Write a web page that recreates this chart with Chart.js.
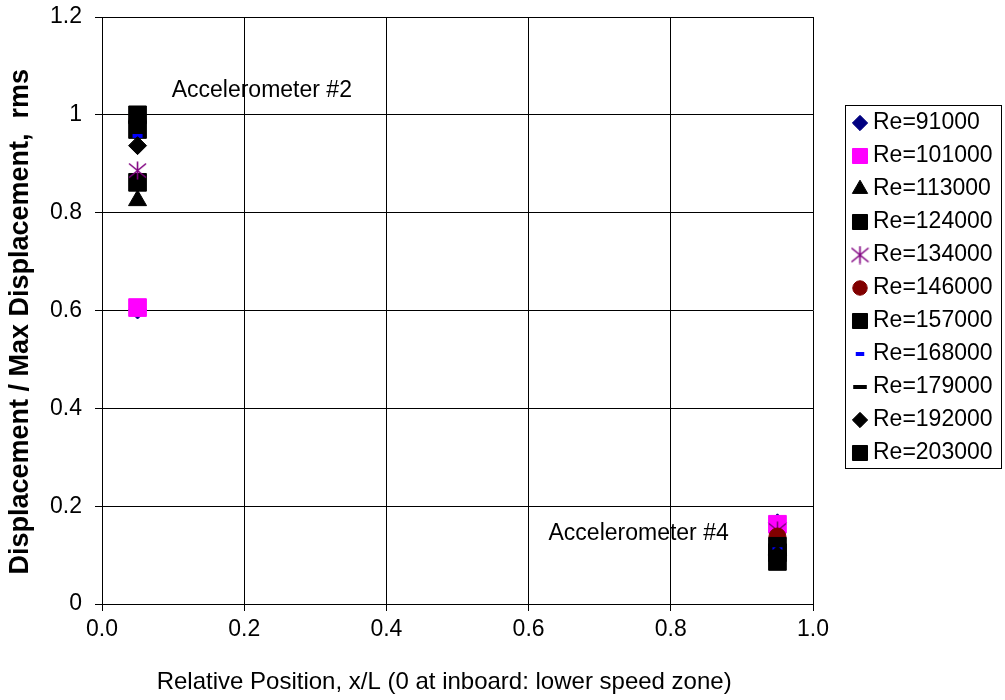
<!DOCTYPE html>
<html>
<head>
<meta charset="utf-8">
<style>
    html, body { margin: 0; padding: 0; background: #fff; }
    #wrap { width: 1005px; height: 700px; }
</style>
<script src="https://cdn.jsdelivr.net/npm/chart.js/dist/chart.umd.min.js"></script>
</head>
<body>
<div id="wrap"><canvas id="accelChart" width="1005" height="700"></canvas></div>
<script>
    // Series: one per Reynolds number, measured at both accelerometers
    const seriesNames = ['Re=91000', 'Re=101000', 'Re=113000', 'Re=124000', 'Re=134000', 'Re=146000',
                         'Re=157000', 'Re=168000', 'Re=179000', 'Re=192000', 'Re=203000'];
    const positions = [0.05, 0.95];                      // x/L of accelerometer #2 and #4
    const accel2 = [0.601, 0.606, 0.825, 0.862, 0.886, 0.990, 0.970, 0.957, 0.965, 0.937, 1.000];
    const accel4 = [0.166, 0.163, 0.112, 0.105, 0.150, 0.138, 0.118, 0.115, 0.120, 0.100, 0.087];
    const xTicks = [0, 0.2, 0.4, 0.6, 0.8, 1.0];
    const yTicks = [0, 0.2, 0.4, 0.6, 0.8, 1.0, 1.2];
    const notes = [
        { text: 'Accelerometer #2', x: 0.098, y: 1.037 },
        { text: 'Accelerometer #4', x: 0.628, y: 0.131 }
    ];

    Chart.defaults.font.family = "'Liberation Sans', Arial, sans-serif";
    Chart.defaults.color = '#000';

    // asterisk marker (vertical stroke + X), Chart.js has no 6-arm star
    function asterisk(color, size) {
        const c = document.createElement('canvas');
        c.width = size; c.height = size;
        const g = c.getContext('2d');
        g.strokeStyle = color;
        g.lineWidth = 1.6;
        const m = size / 2;
        g.beginPath();
        g.moveTo(m, 0.5); g.lineTo(m, size - 0.5);
        g.moveTo(1, 2.5); g.lineTo(size - 1, size - 2.5);
        g.moveTo(1, size - 2.5); g.lineTo(size - 1, 2.5);
        g.stroke();
        return c;
    }

    const markerStyles = [
        { style: 'rectRot',  r: 9,    fill: '#000080', line: '#000080', bw: 1 },
        { style: 'rect',     r: 12.5, fill: '#FF00FF', line: '#FF00FF', bw: 1 },
        { style: 'triangle', r: 10.4, fill: '#000000', line: '#000000', bw: 1 },
        { style: 'rect',     r: 12.5, fill: '#000000', line: '#000000', bw: 1 },
        { style: asterisk('#800080', 19), r: 9, fill: '#800080', line: '#800080', bw: 1 },
        { style: 'circle',   r: 8.5,  fill: '#800000', line: '#800000', bw: 1 },
        { style: 'rect',     r: 12.5, fill: '#000000', line: '#000000', bw: 1 },
        { style: 'line',     r: 5,    fill: '#0000FF', line: '#0000FF', bw: 4 },
        { style: 'line',     r: 8,    fill: '#000000', line: '#000000', bw: 4 },
        { style: 'rectRot',  r: 9,    fill: '#000000', line: '#000000', bw: 1 },
        { style: 'rect',     r: 12.5, fill: '#000000', line: '#000000', bw: 1 }
    ];

    const datasets = seriesNames.map((name, i) => ({
        label: name,
        data: [{ x: positions[0], y: accel2[i] }, { x: positions[1], y: accel4[i] }],
        showLine: false,
        pointStyle: markerStyles[i].style,
        pointRadius: markerStyles[i].r,
        pointBackgroundColor: markerStyles[i].fill,
        pointBorderColor: markerStyles[i].line,
        pointBorderWidth: markerStyles[i].bw,
        order: -i                      // later series on top
    }));

    // boxed legend on the right
    const legendBox = {
        id: 'legendBox',
        afterDraw(chart) {
            const ctx = chart.ctx;
            ctx.save();
            ctx.strokeStyle = '#000';
            ctx.lineWidth = 1;
            ctx.strokeRect(845.5, 105.5, 156, 363);
            ctx.font = "23px 'Liberation Sans', Arial, sans-serif";
            ctx.textBaseline = 'middle';
            ctx.textAlign = 'left';
            chart.data.datasets.forEach((ds, i) => {
                const y = 123 + i * 33;
                const m = markerStyles[i];
                ctx.fillStyle = m.fill;
                ctx.strokeStyle = m.line;
                ctx.lineWidth = m.bw;
                Chart.helpers.drawPoint(ctx, {
                    pointStyle: m.style, radius: m.r * 0.85, rotation: 0, borderWidth: m.bw
                }, 860, y);
                ctx.fillStyle = '#000';
                ctx.fillText(ds.label, 873, y);
            });
            ctx.restore();
        }
    };

    // text labels placed in data coordinates
    const noteLabels = {
        id: 'noteLabels',
        beforeDatasetsDraw(chart) {
            const ctx = chart.ctx;
            const xs = chart.scales.x, ys = chart.scales.y;
            ctx.save();
            ctx.font = "23px 'Liberation Sans', Arial, sans-serif";
            ctx.fillStyle = '#000';
            ctx.textBaseline = 'alphabetic';
            ctx.textAlign = 'left';
            notes.forEach(n => ctx.fillText(n.text, xs.getPixelForValue(n.x), ys.getPixelForValue(n.y)));
            ctx.restore();
        }
    };

    const chart = new Chart(document.getElementById('accelChart'), {
        type: 'scatter',
        data: { datasets: datasets },
        plugins: [legendBox, noteLabels],
        options: {
            responsive: false,
            animation: false,
            layout: { padding: { left: 0, right: 192, top: 17, bottom: 0 } },
            plugins: {
                legend: { display: false },
                tooltip: { enabled: false }
            },
            scales: {
                x: {
                    type: 'linear',
                    min: 0, max: 1,
                    afterBuildTicks: s => { s.ticks = xTicks.map(v => ({ value: v })); },
                    afterFit: s => { s.height = 96; s.paddingLeft = 0; s.paddingRight = 0; },
                    grid: { color: '#000', lineWidth: 1, tickLength: 7 },
                    border: { color: '#000', width: 1 },
                    ticks: {
                        callback: v => Number(v).toFixed(1),
                        font: { size: 23 }, color: '#000', padding: 5, maxRotation: 0
                    },
                    title: {
                        display: true,
                        // trailing spaces nudge the centred title a little to the left
                        text: 'Relative Position, x/L (0 at inboard: lower speed zone)    ',
                        font: { size: 24 }, color: '#000',
                        padding: { top: 0, bottom: 3 }
                    }
                },
                y: {
                    type: 'linear',
                    min: 0, max: 1.2,
                    afterBuildTicks: s => { s.ticks = yTicks.map(v => ({ value: v })); },
                    afterFit: s => { s.width = 102; s.paddingTop = 0; s.paddingBottom = 0; },
                    grid: { color: '#000', lineWidth: 1, tickLength: 7 },
                    border: { color: '#000', width: 1 },
                    ticks: {
                        callback: v => String(Math.round(v * 10) / 10),
                        font: { size: 23 }, color: '#000', padding: 13
                    },
                    title: {
                        display: true,
                        text: 'Displacement / Max Displacement,  rms   ',
                        font: { size: 27, weight: 'bold' }, color: '#000',
                        padding: { top: 4, bottom: 0 }
                    }
                }
            }
        }
    });
</script>
</body>
</html>
